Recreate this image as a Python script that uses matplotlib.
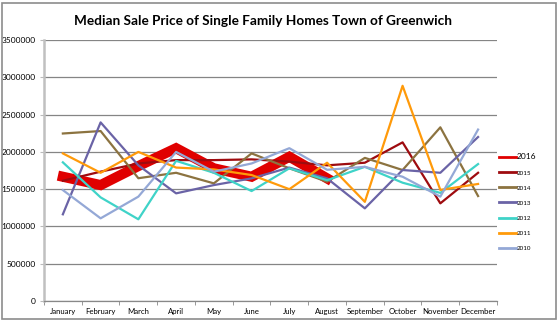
import matplotlib
matplotlib.use("Agg")
import matplotlib.pyplot as plt
from matplotlib.patches import Rectangle

months = ["January", "February", "March", "April", "May", "June", "July",
          "August", "September", "October", "November", "December"]

y2016 = [1667000, 1555000, 1810000, 2050000, 1780000, 1667000, 1935000, 1645000]
y2015 = [1613000, 1735000, 1845000, 1890000, 1890000, 1900000, 1870000, 1820000,
         1855000, 2128000, 1310000, 1720000]
y2014 = [2247000, 2280000, 1647000, 1720000, 1578000, 1980000, 1780000, 1600000,
         1920000, 1757000, 2330000, 1408000]
y2013 = [1163000, 2396000, 1820000, 1444000, 1555000, 1645000, 1790000, 1645000,
         1243000, 1757000, 1720000, 2200000]
y2012 = [1860000, 1390000, 1096000, 1880000, 1720000, 1475000, 1780000, 1620000,
         1800000, 1587000, 1450000, 1837000]
y2011 = [1980000, 1720000, 2000000, 1790000, 1765000, 1690000, 1500000, 1855000,
         1330000, 2887000, 1490000, 1570000]
y2010 = [1488000, 1109000, 1400000, 2000000, 1735000, 1845000, 2050000, 1760000,
         1800000, 1667000, 1400000, 2300000]

series_names = ["2016", "2015", "2014", "2013", "2012", "2011", "2010"]
series_vals = [y2016, y2015, y2014, y2013, y2012, y2011, y2010]
colors = ["#E00000", "#9E0B0F", "#8C7340", "#6A63A6", "#3FD3C8", "#FF9A0A", "#94A8D6"]
widths = [7.3, 1.6, 1.6, 1.6, 1.6, 1.6, 1.6]
yticks = [0, 500000, 1000000, 1500000, 2000000, 2500000, 3000000, 3500000]

plt.rcParams['font.family'] = ['Lato', 'DejaVu Sans']

fig = plt.figure(figsize=(5.59, 3.26), dpi=100)
fig.patches.append(Rectangle((0.004, 0.02), 0.99, 0.972, transform=fig.transFigure,
                             fill=False, edgecolor="#8C8C8C", linewidth=1.2))
ax = fig.add_axes([0.0787, 0.0767, 0.8103, 0.8003])

x = list(range(len(months)))
for name, vals, c, w in zip(series_names, series_vals, colors, widths):
    ax.plot(x[:len(vals)], vals, color=c, linewidth=w, label=name,
            solid_joinstyle="miter" if w > 3 else "round", zorder=3)

ax.set_xlim(-0.5, 11.5)
ax.set_ylim(0, 3500000)
ax.set_yticks(yticks)
ax.set_yticklabels([str(v) for v in yticks], fontsize=6)
ax.set_xticks(x)
ax.set_xticklabels(months, fontsize=5.6)
ax.set_xticks([i + 0.5 for i in range(-1, 12)], minor=True)
ax.tick_params(axis="x", which="major", length=0, pad=5)
ax.tick_params(axis="x", which="minor", length=3, color="#888888")
ax.tick_params(axis="y", length=3, color="#BBBBBB", pad=3)
ax.yaxis.grid(True, color="#858585", linewidth=0.9)
ax.set_axisbelow(True)
for s in ["top", "right"]:
    ax.spines[s].set_visible(False)
ax.spines["left"].set_color("#C0C0C0")
ax.spines["left"].set_linewidth(1.8)
ax.spines["bottom"].set_color("#888888")
ax.spines["bottom"].set_linewidth(0.9)

fig.text(0.47, 0.935, "Median Sale Price of Single Family Homes Town of Greenwich",
         ha="center", va="center", fontsize=9.8, fontweight="bold")

leg = ax.legend(loc="upper left", bbox_to_anchor=(1.0, 0.575), frameon=False,
                fontsize=4.5, handlelength=2.6, labelspacing=1.55, handletextpad=0.1,
                borderaxespad=0)
for h in leg.get_lines():
    h.set_linewidth(2)
leg.get_texts()[0].set_fontsize(6)

fig.savefig("out.png", dpi=100)
